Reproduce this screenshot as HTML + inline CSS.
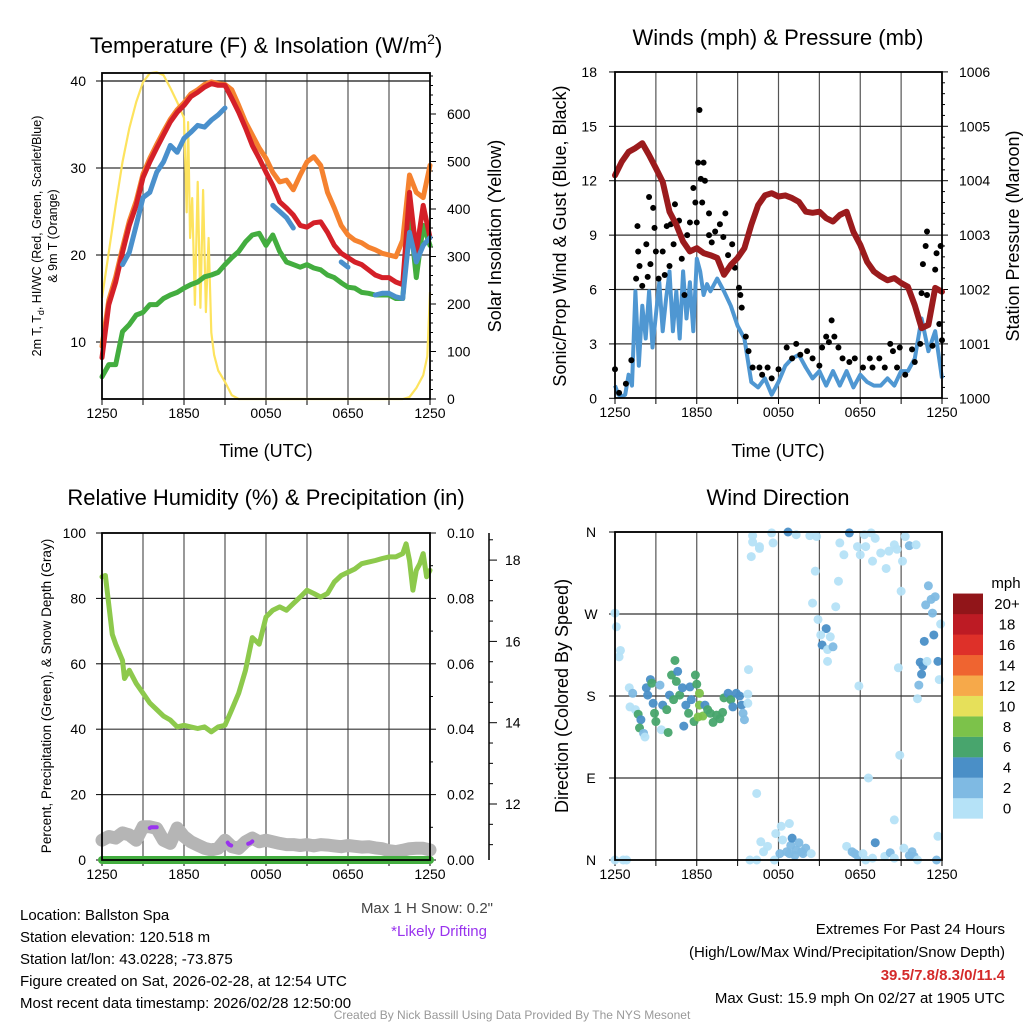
<!DOCTYPE html>
<html><head><meta charset="utf-8"><title>Ballston Spa Mesonet</title>
<style>
html,body{margin:0;padding:0;background:#fff;}
svg{display:block;font-family:"Liberation Sans",Arial,sans-serif;}
</style></head>
<body>
<svg id="chart" width="1024" height="1024" viewBox="0 0 1024 1024" xmlns="http://www.w3.org/2000/svg">
<rect width="1024" height="1024" fill="#fff"/>
<g id="layer"></g>
<text x="266" y="53" font-size="22" text-anchor="middle">Temperature (F) &amp; Insolation (W/m<tspan dy="-9" font-size="14">2</tspan><tspan dy="9">)</tspan></text>
<text x="778" y="45" font-size="22" text-anchor="middle">Winds (mph) &amp; Pressure (mb)</text>
<text x="266" y="505" font-size="22" text-anchor="middle">Relative Humidity (%) &amp; Precipitation (in)</text>
<text x="778" y="505" font-size="22" text-anchor="middle">Wind Direction</text>
<text transform="translate(41,236) rotate(-90)" font-size="12.5" text-anchor="middle">2m T, T<tspan dy="3" font-size="9">d</tspan><tspan dy="-3">, HI/WC (Red, Green, Scarlet/Blue)</tspan></text>
<text transform="translate(57,236) rotate(-90)" font-size="12.5" text-anchor="middle">&amp; 9m T (Orange)</text>
<text transform="translate(501,236) rotate(-90)" font-size="18" text-anchor="middle">Solar Insolation (Yellow)</text>
<text x="266" y="457" font-size="18" text-anchor="middle">Time (UTC)</text>
<text transform="translate(566,236) rotate(-90)" font-size="18" text-anchor="middle">Sonic/Prop Wind &amp; Gust (Blue, Black)</text>
<text transform="translate(1019,236) rotate(-90)" font-size="18" text-anchor="middle">Station Pressure (Maroon)</text>
<text x="778" y="457" font-size="18" text-anchor="middle">Time (UTC)</text>
<text transform="translate(51,696) rotate(-90)" font-size="13.5" text-anchor="middle">Percent, Precipitation (Green), &amp; Snow Depth (Gray)</text>
<text transform="translate(568,696) rotate(-90)" font-size="18" text-anchor="middle">Direction (Colored By Speed)</text>
<text x="493" y="913" font-size="15" fill="#444" text-anchor="end">Max 1 H Snow: 0.2"</text>
<text x="487" y="936" font-size="15" fill="#9933ee" text-anchor="end">*Likely Drifting</text>
<g font-size="15">
<text x="20" y="920">Location: Ballston Spa</text>
<text x="20" y="942">Station elevation: 120.518 m</text>
<text x="20" y="964">Station lat/lon: 43.0228; -73.875</text>
<text x="20" y="986">Figure created on Sat, 2026-02-28, at 12:54 UTC</text>
<text x="20" y="1008">Most recent data timestamp: 2026/02/28 12:50:00</text>
</g>
<g font-size="15" text-anchor="end">
<text x="1005" y="934">Extremes For Past 24 Hours</text>
<text x="1005" y="957">(High/Low/Max Wind/Precipitation/Snow Depth)</text>
<text x="1005" y="980" fill="#d42a2a" font-weight="bold">39.5/7.8/8.3/0/11.4</text>
<text x="1005" y="1003">Max Gust: 15.9 mph On 02/27 at 1905 UTC</text>
</g>
<text x="512" y="1019" font-size="12" fill="#999" text-anchor="middle">Created By Nick Bassill Using Data Provided By The NYS Mesonet</text>
<text x="1006" y="588" font-size="15" text-anchor="middle">mph</text>
</svg>
<script>
const timeTickHours=[0,6,12,18,24];
const timeTickLabels=['1250','1850','0050','0650','1250'];
const tempTicks=[10,20,30,40];
const solarTicks=[0,100,200,300,400,500,600];
const windTicks=[0,3,6,9,12,15,18];
const presTicks=[1000,1001,1002,1003,1004,1005,1006];
const rhTicks=[0,20,40,60,80,100];
const precipTicks=['0.00','0.02','0.04','0.06','0.08','0.10'];
const snowTicks=[12,14,16,18];
const dirTicks=[0,90,180,270,360];
const dirTickLabels=['N','E','S','W','N'];
const cbLabels=['0','2','4','6','8','10','12','14','16','18','20+'];

const tHours=[0,0.5,1,1.5,2,2.5,3,3.5,4,4.5,5,5.5,6,6.5,7,7.5,8,8.5,9,9.5,10,10.5,11,11.5,12,12.5,13,13.5,14,14.5,15,15.5,16,16.5,17,17.5,18,18.5,19,19.5,20,20.5,21,21.5,22,22.5,23,23.5,24];
const tempRed=[8.2,14.3,16.9,20.3,23.4,25.7,28.9,30.7,32.3,33.8,35.3,36.4,37.2,38.2,38.7,39.3,39.7,39.5,39.5,38,36.4,34.6,32.6,31.1,29.5,28,26.1,25.4,24.6,23.4,23.2,23.7,23.8,22.6,21.1,20.2,19.7,19.2,18.9,18.3,17.7,17.4,17.4,16.9,16.6,27.2,20.3,25.7,22.0];
const tempOrange=[9.5,14.8,17.5,20.8,23.9,26.2,29.3,31.1,32.7,34.2,35.6,36.7,37.5,38.5,39.0,39.6,39.9,39.7,39.6,39,37.2,35.3,33.8,32.3,31.1,29.5,28.4,28.6,27.5,29.2,30.7,31.3,30.3,27.2,25.4,23.4,22.3,21.7,21.4,20.9,20.6,20.2,20,19.8,21.7,29.2,27.2,26.6,30.3];
const tempBlue=[null,null,null,18.9,20.3,23.4,26.6,27.2,29.5,30.7,32.6,31.8,33.4,34.1,34.9,34.7,35.5,36.1,36.9,null,null,null,null,null,null,25.7,25.0,24.3,23.1,null,null,null,null,null,null,19.2,18.6,null,null,null,15.4,15.6,15.6,15.2,15.0,22.6,19.2,21.1,22.0];
const tempGreen=[6.0,7.4,7.4,11.2,12,13.1,13.4,14.3,14.3,15,15.4,15.7,16.2,16.6,16.9,17.5,17.7,18,18.9,19.7,20.4,21.5,22.3,22.5,21.1,22.3,20.4,19.2,18.9,18.6,18.9,18.5,18.3,17.7,17.4,16.8,16.3,16.2,15.7,15.6,15.4,15.4,15.4,15,15,24.9,17.4,23.4,21.1];

const solarHours=[0,0.5,1,1.5,2,2.5,3,3.5,4,4.5,5,5.5,6,6.2,6.3,6.45,6.6,6.8,7.0,7.2,7.4,7.6,7.8,8.0,8.2,8.5,9,9.5,10,22,22.5,23,23.5,23.8,24];
const solarVals=[213,309,408,499,570,625,667,686,688,682,655,625,592,393,583,339,423,198,457,192,440,183,339,140,93,60,36,8,0,0,4,23,50,90,225];

const windHours=[0,0.25,0.5,0.75,1,1.25,1.5,1.75,2,2.25,2.5,2.75,3,3.25,3.5,3.75,4,4.25,4.5,4.75,5,5.25,5.5,5.75,6,6.25,6.5,6.75,7,7.5,8,8.5,9,9.5,10,10.5,11,11.5,12,12.5,13,13.5,14,14.5,15,15.5,16,16.5,17,17.5,18,18.5,19,19.5,20,20.5,21,21.5,22,22.5,23,23.5,24];
const windVals=[0.7,0.2,0.1,0.2,1.3,0.7,5.9,1.8,5.1,3.3,5.9,2.8,4.6,6.4,3.7,5.5,7.0,3.7,5.9,3.3,7.0,4.4,6.4,3.7,7.7,7.0,5.7,6.3,5.9,6.6,5.9,5.1,4.0,3.3,0.9,0.6,1.1,0.2,0.9,1.8,2.2,2.4,1.7,1.1,1.5,0.7,1.5,0.7,1.5,0.6,1.3,0.9,0.7,0.7,1.1,0.7,1.5,1.5,2.2,4.4,2.6,3.7,1.1];

const presVals=[1004.10,1004.35,1004.53,1004.60,1004.69,1004.47,1004.23,1003.98,1003.43,1003.19,1002.88,1002.70,1002.76,1002.67,1002.63,1002.58,1002.27,1002.45,1002.58,1002.76,1003.19,1003.55,1003.73,1003.77,1003.71,1003.73,1003.68,1003.61,1003.43,1003.41,1003.43,1003.31,1003.25,1003.37,1003.43,1003.06,1002.82,1002.51,1002.33,1002.24,1002.17,1002.21,1002.12,1002.05,1001.71,1001.29,1001.35,1002.03,1001.96];

const gustHours=[0,0.3,0.8,1.2,1.55,1.7,1.8,1.65,2.0,2.3,2.4,2.5,2.6,2.8,2.9,3.0,3.2,3.5,3.65,3.8,4.0,4.1,4.3,4.4,4.7,4.9,5.1,5.3,5.5,5.75,5.9,6.0,6.1,6.2,6.3,6.4,6.5,6.6,6.9,6.9,7.1,7.35,7.7,7.95,8.1,8.3,8.6,8.8,9.1,9.2,9.3,9.6,9.8,10.1,10.6,10.8,11.2,11.5,12.0,12.6,13.0,13.3,13.6,14.1,14.5,15.0,15.2,15.5,15.7,15.9,16.1,16.4,16.7,17.2,17.6,18.2,18.7,18.9,19.4,19.8,20.2,20.4,20.7,20.9,21.3,21.8,22.0,22.4,22.5,22.6,22.8,22.9,22.9,23.3,23.5,23.6,23.8,23.9,24.0];
const gustVals=[1.6,0.3,0.8,2.1,6.6,8.1,7.3,9.5,6.2,8.5,6.7,11.1,7.4,10.5,9.4,8.1,6.6,8.1,6.8,9.5,7.3,9.6,8.5,10.7,9.8,7.7,5.7,9.0,9.7,11.6,10.8,9.7,13.0,15.9,12.1,10.8,13.0,12.0,10.2,9.0,8.6,9.2,9.6,8.9,10.2,7.9,8.5,7.2,6.1,5.7,5.0,3.4,2.6,1.7,1.7,1.3,1.7,1.1,1.6,2.8,2.2,3.0,2.4,2.6,2.2,1.8,2.8,3.4,3.1,4.3,3.4,2.8,2.2,2.0,2.2,1.7,2.2,1.7,2.2,1.7,3.0,2.6,1.7,2.8,1.3,2.7,2.0,3.0,5.8,7.4,8.4,9.2,5.7,2.9,7.1,8.0,4.1,8.4,3.2];

const rhHours=[0,0.25,0.5,0.75,1,1.5,1.65,2,2.5,3,3.5,4,4.5,5,5.5,6,6.5,7,7.5,8,8.5,9,9.5,10,10.5,11,11.5,12,12.5,13,13.5,14,14.5,15,15.5,16,16.5,17,17.5,18,18.5,19,19.5,20,20.5,21,21.5,22,22.25,22.5,22.75,23,23.25,23.5,23.75,24];
const rhVals=[86.6,87,78,69,66,61,55.5,58,54,51,48,46,44,42.8,40.7,41.2,40.7,40.2,40.7,39.2,40.7,41.2,46,51,58,68,66,74.3,76.4,77.4,76.4,78.4,80.4,82.5,81.5,80.4,81.5,85,87,88,89,90.6,91.1,91.6,92.2,92.7,92.7,93.7,96.7,91.6,82.5,88.6,90.6,93.7,86.6,88.6];
const precipVals=[0,0,0,0,0,0,0,0,0,0,0,0,0,0,0,0,0,0,0,0,0,0,0,0,0,0,0,0,0,0,0,0,0,0,0,0,0,0,0,0,0,0,0,0,0,0,0,0,0];
const snowVals=[11.11,11.2,11.16,11.29,11.24,11.11,11.44,11.44,11.4,11.11,11.03,11.41,11.2,11.07,10.99,10.91,10.87,10.91,11.11,10.95,10.91,11.07,11.16,11.07,11.11,11.07,11.03,11.0,11.0,10.98,11.0,10.97,11.0,10.99,10.97,10.95,10.98,10.96,10.94,10.95,10.92,10.9,10.85,10.83,10.86,10.9,10.91,10.91,10.87];
const driftHours=[3.5,3.6,3.75,3.9,4.0,null,9.2,9.3,9.45,null,10.7,10.85,11.0];
const driftVals=[11.41,11.43,11.43,11.43,11.43,null,11.05,11.0,10.98,null,11.02,11.04,11.08];

const wdHours=[0,0.1,0.4,0.3,0,0.6,0.85,1.05,1.3,1.1,1.5,1.7,1.9,1.8,2.1,2.2,2.3,2.6,2.4,2.7,2.8,2.9,3.0,3.3,3.4,3.5,3.8,3.9,4.0,4.15,4.3,4.4,4.5,4.6,4.75,4.95,5.05,5.2,5.4,5.5,5.6,5.8,5.9,6.0,6.1,6.2,6.2,6.45,6.6,6.8,7.0,7.2,7.45,7.7,7.9,8.0,8.3,8.5,8.65,8.9,9.15,9.3,9.4,9.5,9.75,9.75,9.8,10.0,10.1,10.1,10.6,10.6,11.5,11.6,12.7,13.3,14.3,14.8,14.7,14.5,14.9,15.5,15.1,15.2,15.6,16.0,15.6,15.8,16.2,16.4,16.5,16.8,17.2,17.8,18.0,18.3,18.4,18.8,18.9,19.1,19.5,19.9,20.1,20.5,20.7,21.1,21.3,21.6,22.1,21.0,23.0,22.8,23.2,23.5,23.3,23.9,23.4,22.7,22.4,22.6,22.5,22.9,23.7,23.8,22.3,22.2,20.8,17.9,20.9,18.6,20.5,10.4,9.9,10.4,10.7,10.9,11.2,11.7,11.8,12.2,12.8,12.3,12.1,12.6,12.9,13.0,13.3,13.5,13.8,14.0,14.4,12.8,13.2,13.7,17.0,17.4,17.6,17.8,18.2,18.4,18.9,19.1,19.8,20.2,20.5,21.2,21.6,21.8,21.95,22.2,23.6,23.7];
const wdDeg=[271,256,230,223,0,0,0,189,183,168,165,160,154,145,139,135,189,198,181,194,172,161,152,192,143,170,165,140,181,203,176,219,196,207,181,189,147,170,161,190,176,152,203,193,157,183,170,158,170,165,161,151,159,155,162,178,183,176,168,183,180,170,161,154,182,172,209,333,349,356,344,342,359,348,360,357,356,355,317,282,264,254,247,236,231,234,218,245,278,306,348,335,359,344,335,357,344,359,328,353,337,320,339,346,341,328,355,345,346,295,301,280,286,289,271,259,247,240,217,213,204,218,218,198,192,177,211,191,115,90,44,73,0,0,20,9,15,0,29,37,40,22,7,9,16,24,11,19,7,13,7,7,5,9,15,9,7,5,7,0,2,19,4,8,2,13,5,9,4,0,0,26];
const wdSpeed=[1,1,1,1,1,1,1,1,3,1,1,7,5,7,3,1,5,5,5,7,5,7,7,3,1,5,7,7,5,7,7,7,7,5,7,5,5,5,7,5,5,7,7,7,9,9,9,9,5,7,7,7,7,7,7,7,5,7,5,5,5,5,3,3,1,1,1,1,1,1,1,1,1,1,5,1,1,1,1,1,1,5,1,5,1,3,1,1,1,1,1,1,5,1,1,1,1,1,1,1,1,1,1,1,1,1,1,3,1,1,3,3,3,3,3,1,5,5,5,5,5,1,5,1,3,1,1,1,1,1,1,1,1,1,1,1,1,1,1,1,1,1,3,3,3,5,3,3,3,3,1,3,3,3,1,3,3,3,1,1,1,5,1,3,1,1,3,3,3,1,3,1];
const cbColors=['#b5e2f7','#7fbae3','#4a8fc7','#48a56d','#7cc24a','#e6e05a','#f6a94a','#ef6430','#de3029','#bd1b24','#911519'];

const layer=document.getElementById('layer');
const NS='http://www.w3.org/2000/svg';
function mk(tag,attrs,parent){const e=document.createElementNS(NS,tag);for(const k in attrs)e.setAttribute(k,attrs[k]);(parent||layer).appendChild(e);return e;}
const xL=h=>102+h*328/24;
const xR=h=>615+h*327/24;
const tempY=t=>81+(40-t)*8.7;
const solarY=s=>399-s*0.475;
const windY=w=>398.3-w*18.13;
const presY=p=>398.3-(p-1000)*54.4;
const rhY=r=>860-r*3.27;
const precipY=p=>860-p*3270;
const snowY=s=>804-(s-12)*40.65;
const dirY=d=>860-d*328/360;
function pathD(xs,ys,xf,yf){let d='',pen=false;for(let i=0;i<xs.length;i++){if(ys[i]===null||ys[i]===undefined||xs[i]===null){pen=false;continue;}d+=(pen?'L':'M')+xf(xs[i]).toFixed(1)+','+yf(ys[i]).toFixed(1);pen=true;}return d;}
function txt(x,y,s,size,anchor,parent){const t=mk('text',{x:x,y:y,'font-size':size,'text-anchor':anchor||'middle'},parent);t.textContent=s;return t;}

function panelGrid(x0,x1,y0,y1,xf,hys,name){
  const g=mk('g',{});
  
  
  for(let h=3;h<24;h+=3){mk('line',{x1:xf(h),x2:xf(h),y1:y0,y2:y1,stroke:'#555','stroke-width':1.2},g);}
  hys.forEach(y=>mk('line',{x1:x0,x2:x1,y1:y,y2:y,stroke:'#333','stroke-width':1.2},g));
  for(let h=0;h<=24;h+=3){mk('line',{x1:xf(h),x2:xf(h),y1:y1,y2:y1+6,stroke:'#000','stroke-width':1},g);}
  timeTickHours.forEach((h,i)=>txt(xf(h),y1+19,timeTickLabels[i],14,'middle',g));
}
panelGrid(102,430,73,399,xL,tempTicks.map(tempY),'temp');
panelGrid(615,942,72,398,xR,windTicks.slice(1,6).map(windY),'wind');
panelGrid(102,430,533,860,xL,rhTicks.slice(1,5).map(rhY),'rh');
panelGrid(615,942,532,860,xR,dirTicks.slice(1,4).map(dirY),'wdir');
mk('line',{x1:615,x2:942,y1:dirY(360),y2:dirY(360),stroke:'#333','stroke-width':1.2});
mk('line',{x1:102,x2:430,y1:tempY(40),y2:tempY(40),stroke:'#333','stroke-width':1.2});

const gl=mk('g',{});


tempTicks.forEach(t=>{txt(86,tempY(t)+5,String(t),14,'end',gl);mk('line',{x1:96,x2:102,y1:tempY(t),y2:tempY(t),stroke:'#000'},gl);});
for(let s=0;s<=680;s+=20){mk('line',{x1:430,x2:s%100===0?436:433,y1:solarY(s),y2:solarY(s),stroke:'#000'},gl);}
solarTicks.forEach(s=>txt(447,solarY(s)+5,String(s),14,'start',gl));
windTicks.forEach(w=>{txt(597,windY(w)+5,String(w),14,'end',gl);mk('line',{x1:609,x2:615,y1:windY(w),y2:windY(w),stroke:'#000'},gl);});
for(let p=1000;p<=1006.01;p+=0.2){const major=Math.abs(p-Math.round(p))<0.01;mk('line',{x1:942,x2:major?948:945,y1:presY(p),y2:presY(p),stroke:'#000'},gl);}
presTicks.forEach(p=>txt(959,presY(p)+5,String(p),14,'start',gl));
rhTicks.forEach(r=>{txt(86,rhY(r)+5,String(r),14,'end',gl);mk('line',{x1:96,x2:102,y1:rhY(r),y2:rhY(r),stroke:'#000'},gl);});
for(let r=0;r<=100;r+=10){mk('line',{x1:430,x2:r%20===0?436:433,y1:rhY(r),y2:rhY(r),stroke:'#000'},gl);}
precipTicks.forEach(p=>txt(447,precipY(parseFloat(p))+5,p,14,'start',gl));
mk('line',{x1:489,x2:489,y1:533,y2:860,stroke:'#000','stroke-width':1.5},gl);
for(let s=11;s<=18.6;s+=0.5){const major=s%2===0;mk('line',{x1:489,x2:major?497:493,y1:snowY(s),y2:snowY(s),stroke:'#000'},gl);}
snowTicks.forEach(s=>txt(505,snowY(s)+5,String(s),14,'start',gl));
dirTicks.forEach((d,i)=>{txt(591,dirY(d)+5,dirTickLabels[i],14,'middle',gl);mk('line',{x1:609,x2:615,y1:dirY(d),y2:dirY(d),stroke:'#000'},gl);});

const solar=mk('path',{d:pathD(solarHours,solarVals,xL,solarY),fill:'none',stroke:'#fde35e','stroke-width':2.2,'stroke-linejoin':'round'});


const tg=mk('path',{d:pathD(tHours,tempGreen,xL,tempY),fill:'none',stroke:'#43ad3f','stroke-width':5,'stroke-linejoin':'round','stroke-linecap':'round'});


const to=mk('path',{d:pathD(tHours,tempOrange,xL,tempY),fill:'none',stroke:'#f5822f','stroke-width':5,'stroke-linejoin':'round','stroke-linecap':'round'});


const tr=mk('path',{d:pathD(tHours,tempRed,xL,tempY),fill:'none',stroke:'#d42028','stroke-width':5,'stroke-linejoin':'round','stroke-linecap':'round'});


const tb=mk('path',{d:pathD(tHours,tempBlue,xL,tempY),fill:'none',stroke:'#4a90cc','stroke-width':5,'stroke-linejoin':'round','stroke-linecap':'round'});



const wl=mk('path',{d:pathD(windHours,windVals,xR,windY),fill:'none',stroke:'#4f97d2','stroke-width':4,'stroke-linejoin':'round'});


const gg=mk('g',{});


gustHours.forEach((h,i)=>{const c=mk('circle',{cx:xR(h),cy:windY(gustVals[i]),r:3,fill:'#000'},gg);

});
const pl=mk('path',{d:pathD(tHours,presVals,xR,presY),fill:'none',stroke:'#9b1b1d','stroke-width':6,'stroke-linejoin':'round','stroke-linecap':'round'});



const sl=mk('path',{d:pathD(tHours,snowVals,xL,snowY),fill:'none',stroke:'#b5b5b5','stroke-width':13,'stroke-linejoin':'round','stroke-linecap':'round'});


const dl=mk('path',{d:pathD(driftHours,driftVals,xL,snowY),fill:'none',stroke:'#9933ee','stroke-width':4,'stroke-linecap':'round','stroke-linejoin':'round'});


const prl=mk('path',{d:pathD(tHours,precipVals,xL,precipY),fill:'none',stroke:'#43ad3f','stroke-width':8,'stroke-linecap':'round'});


const rl=mk('path',{d:pathD(rhHours,rhVals,xL,rhY),fill:'none',stroke:'#8dc94c','stroke-width':5,'stroke-linejoin':'round','stroke-linecap':'round'});



function spColor(s){let i=Math.floor(s/2);if(i>10)i=10;if(i<0)i=0;return cbColors[i];}
const wg=mk('g',{});


wdHours.forEach((h,i)=>{const c=mk('circle',{cx:xR(h),cy:dirY(wdDeg[i]),r:4.5,fill:spColor(wdSpeed[i]),'fill-opacity':0.95},wg);

});

const cb=mk('g',{});


cbColors.forEach((c,i)=>{const y=818.5-(i+1)*20.45;mk('rect',{x:953,y:y,width:30,height:20.6,fill:c},cb);
txt(1007,y+15.5,cbLabels[i],15,'middle',cb);});

[[102,73,328,326],[615,72,327,326],[102,533,328,327],[615,532,327,328]].forEach((r,i)=>{
 const f=mk('rect',{x:r[0],y:r[1],width:r[2],height:r[3],fill:'none',stroke:'#000','stroke-width':1.8});
 
 
});
</script>
</body></html>
